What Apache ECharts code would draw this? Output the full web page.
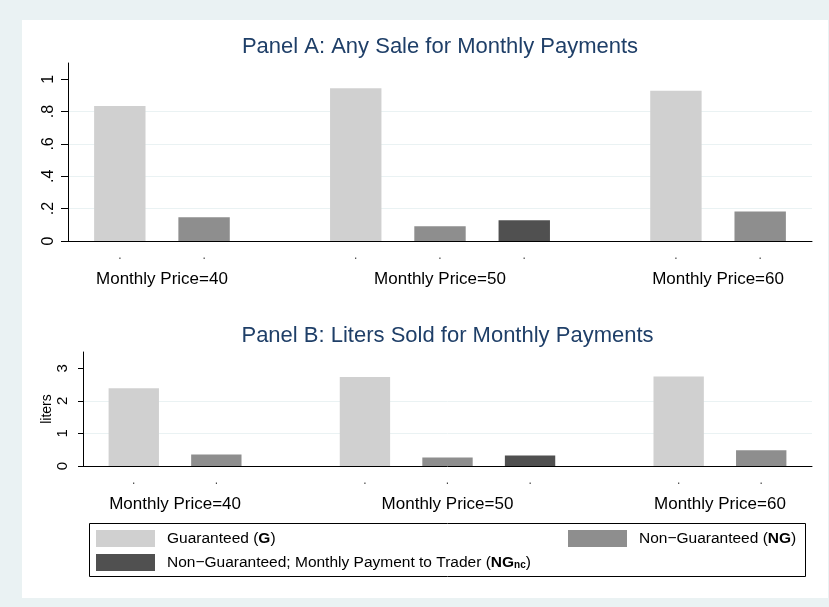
<!DOCTYPE html>
<html>
<head>
<meta charset="utf-8">
<script src="https://cdn.jsdelivr.net/npm/echarts@6/dist/echarts.min.js"></script>
<style>
html, body { margin: 0; padding: 0; background: #eaf2f3; }
#chart { width: 829px; height: 607px; }
</style>
</head>
<body>
<div id="chart"></div>
<script>
// data
const groups = ['Monthly Price=40', 'Monthly Price=50', 'Monthly Price=60']
const barTypes = ['G', 'NG', 'NGnc']
const saleG = [0.835, 0.944, 0.928]
const saleNG = [0.146, 0.091, 0.183]
const saleNGnc = [null, 0.128, null]
const litersG = [2.39, 2.73, 2.75]
const litersNG = [0.35, 0.26, 0.48]
const litersNGnc = [null, 0.32, null]
const saleTicks = [0, 0.2, 0.4, 0.6, 0.8, 1]
const litersTicks = [0, 1, 2, 3]
const legendText = {
    G: '{f|Guaranteed (}{b|G}{t|)}',
    NG: '{f|Non\u2212Guaranteed (}{b|NG}{t|)}',
    NGnc: '{f|Non\u2212Guaranteed; Monthly Payment to Trader (}{b|NG}{s|nc}{t|)}'
}

const font = 'Liberation Sans, Arial, sans-serif'
const colors = { G: '#d0d0d0', NG: '#8e8e8e', NGnc: '#505050' }

const panels = [
    {
        title: 'Panel A: Any Sale for Monthly Payments', titleTop: 36,
        values: [saleG, saleNG, saleNGnc], ticks: saleTicks, interval: 0.2, max: 1.1,
        left: 68, top: 63, width: 744, height: 178, yName: '',
        labelSize: 16, labelMargin: 11, tickLen: 7
    },
    {
        title: 'Panel B: Liters Sold for Monthly Payments', titleTop: 325,
        values: [litersG, litersNG, litersNGnc], ticks: litersTicks, interval: 1, max: 3.5,
        left: 83, top: 352, width: 729, height: 114, yName: 'liters',
        labelSize: 15, labelMargin: 13, tickLen: 5
    }
]

// stata-like spacing, in units of one bar step
const edgeUnits = 0.115
const groupGapUnits = 0.8

function fmtTick(v) {
    return v === 0 ? '0' : String(+v.toFixed(2)).replace(/^0\./, '.')
}

const option = {
    backgroundColor: '#eaf2f3',
    animation: false,
    title: [],
    grid: [],
    xAxis: [],
    yAxis: [],
    series: [],
    graphic: [
        { type: 'rect', z: -10, silent: true, shape: { x: 22, y: 20, width: 806, height: 578 }, style: { fill: '#fff' } },
        { type: 'rect', silent: true, shape: { x: 89.5, y: 523.5, width: 716, height: 53 }, style: { fill: 'none', stroke: '#000', lineWidth: 1 } }
    ]
}

panels.forEach(p => {
    option.title.push({
        text: p.title, left: p.left + p.width / 2, top: p.titleTop, textAlign: 'center', padding: 0,
        textStyle: { fontFamily: font, fontSize: 22, fontWeight: 'normal', color: '#1f3f68' }
    })

    // frame grid: y axis, grid lines, baseline
    const fi = option.grid.length
    option.grid.push({ left: p.left, top: p.top, width: p.width, height: p.height })
    option.xAxis.push({
        gridIndex: fi, type: 'value', min: 0, max: 1,
        axisLine: { show: true, onZero: false, lineStyle: { color: '#000' } },
        axisTick: { show: false }, axisLabel: { show: false }, splitLine: { show: false }
    })
    option.yAxis.push({
        gridIndex: fi, type: 'value', min: 0, max: p.max, interval: p.interval,
        name: p.yName, nameLocation: 'middle', nameGap: 29, nameRotate: 90, nameMoveOverlap: false,
        nameTextStyle: { fontFamily: font, fontSize: 14, color: '#000' },
        axisLine: { show: true, lineStyle: { color: '#000' } },
        axisTick: { show: true, length: p.tickLen, customValues: p.ticks, lineStyle: { color: '#000' } },
        axisLabel: {
            customValues: p.ticks, rotate: 90, margin: p.labelMargin,
            fontFamily: font, fontSize: p.labelSize, color: '#000', formatter: fmtTick
        },
        splitLine: { show: true, showMaxLine: false, lineStyle: { color: '#eaf2f3' } }
    })

    // one grid per price group so groups can hold 2 or 3 bars
    const present = groups.map((g, gi) => barTypes.filter((t, ti) => p.values[ti][gi] != null))
    const nBars = present.reduce((a, b) => a + b.length, 0)
    const step = p.width / (2 * edgeUnits + nBars + groupGapUnits * (groups.length - 1))
    let x = p.left + edgeUnits * step

    groups.forEach((g, gi) => {
        const types = present[gi]
        const idx = option.grid.length
        option.grid.push({ left: x, top: p.top, width: types.length * step, height: p.height })
        x += types.length * step + groupGapUnits * step
        option.xAxis.push({
            gridIndex: idx, type: 'category', data: types,
            name: g, nameLocation: 'middle', nameGap: 30, nameMoveOverlap: false,
            nameTextStyle: { fontFamily: font, fontSize: 17, color: '#000' },
            axisLine: { show: false }, axisTick: { show: false },
            axisLabel: { margin: 9, fontFamily: font, fontSize: 12, color: '#444', formatter: () => '.' }
        })
        option.yAxis.push({ gridIndex: idx, type: 'value', min: 0, max: p.max, show: false })
        types.forEach(t => {
            const v = p.values[barTypes.indexOf(t)][gi]
            option.series.push({
                type: 'bar', name: t, xAxisIndex: idx, yAxisIndex: idx, stack: 'g' + idx,
                barWidth: '61%',
                itemStyle: { color: colors[t] },
                data: types.map(t2 => t2 === t ? v : '-')
            })
        })
    })
})

const legendBase = {
    orient: 'horizontal', padding: 0, itemWidth: 59, itemHeight: 17, icon: 'rect',
    selectedMode: false,
    formatter: n => legendText[n],
    textStyle: {
        color: '#000', fontFamily: font, fontSize: 15.5,
        rich: {
            f: { fontFamily: font, fontSize: 15.5, color: '#000', padding: [0, 0, 0, 7] },
            t: { fontFamily: font, fontSize: 15.5, color: '#000' },
            b: { fontFamily: font, fontSize: 15.5, color: '#000', fontWeight: 'bold' },
            s: { fontFamily: font, fontSize: 10, color: '#000', fontWeight: 'bold', verticalAlign: 'bottom' }
        }
    }
}
option.legend = [
    Object.assign({}, legendBase, { data: ['G'], left: 96, top: 530 }),
    Object.assign({}, legendBase, { data: ['NG'], left: 568, top: 530 }),
    Object.assign({}, legendBase, { data: ['NGnc'], left: 96, top: 554 })
]

const chart = echarts.init(document.getElementById('chart'))
chart.setOption(option)
</script>
</body>
</html>
